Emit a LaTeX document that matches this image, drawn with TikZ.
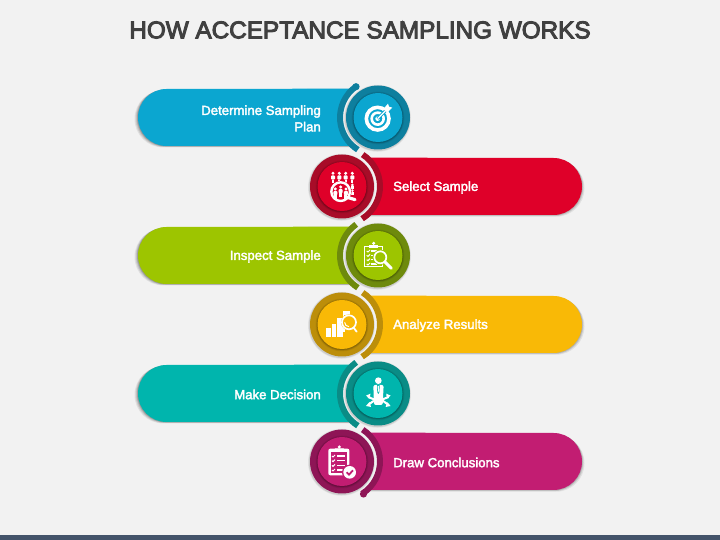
\documentclass[tikz,border=0pt]{standalone}
\usepackage{fontspec}
\setmainfont{Liberation Sans}
\newfontfamily\titlefont[FakeBold=4]{Liberation Sans}
\newfontfamily\labelfont[FakeBold=2.5]{Liberation Sans}
\definecolor{bgc}{HTML}{F2F2F2}
\definecolor{footc}{HTML}{44546A}
\definecolor{titlec}{HTML}{404040}
\definecolor{cA}{HTML}{0BA6D0}\definecolor{dA}{HTML}{0E7F9E}
\definecolor{cB}{HTML}{DF0029}\definecolor{dB}{HTML}{A80C28}
\definecolor{cC}{HTML}{9DC500}\definecolor{dC}{HTML}{6E8A0C}
\definecolor{cD}{HTML}{F9B906}\definecolor{dD}{HTML}{BC8E0A}
\definecolor{cE}{HTML}{00B5AD}\definecolor{dE}{HTML}{0A8C86}
\definecolor{cF}{HTML}{C21D72}\definecolor{dF}{HTML}{8E1556}
\tikzset{
  x=1pt,y=1pt,
  ringnode/.style={circle,inner sep=0pt,minimum size=64pt},
  corenode/.style={circle,inner sep=0pt,minimum size=49pt},
  lefttext/.style={text=white,font=\labelfont\fontsize{13.2}{16.5}\selectfont,anchor=east,align=right,inner sep=0pt},
  righttext/.style={text=white,font=\labelfont\fontsize{13.2}{16.5}\selectfont,anchor=west,align=left,inner sep=0pt},
  iconscope/.style={x=0.3333pt,y=-0.3333pt},
}
\newcommand{\barleftpath}{(166.5,28.5) arc[start angle=90,end angle=270,radius=28.5] -- (353,-28.5) arc[start angle=229,end angle=131,radius=38] -- cycle}
\newcommand{\barrightpath}{(553.5,28.5) arc[start angle=90,end angle=-90,radius=28.5] -- (367,-28.5) arc[start angle=-49,end angle=49,radius=38] -- cycle}
\newcommand{\rowcircle}[4]{%
  \foreach \d/\o in {1.5/.06,.7/.10}{\fill[black,opacity=\o] (#2-.5,-.8) circle[radius=32+\d];}
  \node[ringnode,fill=#4] (ring#1) at (#2,0) {};
  \foreach \d/\o in {2/.06,1.2/.10,.5/.14}{\fill[black,opacity=\o] (#2,-.5) circle[radius=24.5+\d];}
  \node[corenode,fill=#3] (core#1) at (#2,0) {};
}
\newcommand{\rowleft}[5]{%
  \begin{scope}[shift={(0pt,{(540-#2)*1pt})}]
    \foreach \d/\o in {3.5/.07,2.5/.09,1.5/.12,.7/.15}{\fill[black,opacity=\o,shift={(-\d*1pt,-\d*.4pt)}] \barleftpath;}
    \fill[#3] \barleftpath;
    \draw[#4,line width=6pt] (378,0)+(125:38) arc[start angle=125,end angle=238,radius=38];
    \rowcircle{#1}{378}{#3}{#4}
    \node[lefttext] (text#1) at (321,-1) {#5};
  \end{scope}}
\newcommand{\rowright}[5]{%
  \begin{scope}[shift={(0pt,{(540-#2)*1pt})}]
    \foreach \d/\o in {2.5/.07,1.5/.1,.7/.13}{\fill[black,opacity=\o,shift={(\d*1pt,-\d*.7pt)}] \barrightpath;}
    \fill[#3] \barrightpath;
    \draw[#4,line width=6pt] (342,0)+(-58:38) arc[start angle=-58,end angle=57,radius=38];
    \rowcircle{#1}{342}{#3}{#4}
    \node[righttext] (text#1) at (393,-1) {#5};
  \end{scope}}
\begin{document}
\begin{tikzpicture}
\useasboundingbox (0,0) rectangle (720,540);
\fill[bgc] (0,0) rectangle (720,540);
\fill[footc] (0,0) rectangle (720,5);
\node[text=titlec,font=\titlefont\fontsize{24.3}{30}\selectfont,inner sep=0pt] (title) at (360,510) {HOW ACCEPTANCE SAMPLING WORKS};

\rowleft{A}{117.5}{cA}{dA}{Determine Sampling\\Plan}
\rowright{B}{186.5}{cB}{dB}{Select Sample}
\rowleft{C}{255.5}{cC}{dC}{Inspect Sample}
\rowright{D}{324.5}{cD}{dD}{Analyze Results}
\rowleft{E}{393.5}{cE}{dE}{Make Decision}
\rowright{F}{461.5}{cF}{dF}{Draw Conclusions}

\fill[dA] (356,453.3) circle[radius=3.6];
\fill[dF] (363.5,46) circle[radius=3.6];

% ---- icon A: target
\begin{scope}[shift={(300pt,465pt)},iconscope]
  \draw[white,line width=3.6pt] (233,131) circle[radius=34];
  \draw[white,line width=2.6pt] (233,131) circle[radius=18];
  \fill[white] (233,131) circle[radius=7];
  \draw[cA,line width=3pt] (233,131) -- (264,100);
  \draw[white,line width=1.3pt] (233,131) -- (264,100);
  \fill[white] (250,102) -- (264,86) -- (267,95) -- (277,98) -- (262,113) -- cycle;
\end{scope}

% ---- icon B: people under lens
\begin{scope}[shift={(300pt,465pt)},iconscope]
  \foreach \px in {99,118,137,157}{
    \fill[white] (\px,295) circle[radius=5];
    \fill[white,rounded corners=1pt] (\px-6,301) rectangle (\px+6,314);
    \fill[white] (\px-3,314) rectangle (\px+3,323);
  }
  \foreach \py in {330,347}{
    \fill[white] (157,\py) circle[radius=4.5];
    \fill[white] (153,\py+4) rectangle (161,\py+13);
  }
  \fill[cB] (122,350) circle[radius=33];
  \draw[white,line width=2.4pt] (122,350) circle[radius=28];
  \draw[white,line width=3.2pt,line cap=round] (145,368) -- (165,374);
  \foreach \px/\py in {106/349,122/343,138/349}{
    \fill[white] (\px,\py-7) circle[radius=5];
    \fill[white,rounded corners=1pt] (\px-6,\py-1) rectangle (\px+6,\py+12);
    \fill[white] (\px-4.5,\py+12) rectangle (\px+4.5,\py+22);
  }
\end{scope}

% ---- icon C: clipboard and lens
\begin{scope}[shift={(300pt,325pt)},iconscope]
  \draw[white,line width=1.6pt] (194,94) rectangle (247,155);
  \fill[white] (208,89) rectangle (235,98);
  \fill[white] (221,85) circle[radius=5];
  \foreach \py in {108,121,134,147}{
    \draw[white,line width=1pt] (200,\py) -- (204,\py+3) -- (210,\py-3);
    \draw[white,line width=1.2pt] (214,\py) -- (232,\py);
  }
  \fill[cC] (241,127) circle[radius=23];
  \draw[white,line width=1.7pt] (241,127) circle[radius=18];
  \draw[white,line width=3pt,line cap=round] (255,141) -- (274,160);
\end{scope}

% ---- icon D: bars and lens
\begin{scope}[shift={(300pt,325pt)},iconscope]
  \fill[white] (78,340) rectangle (92,365);
  \fill[white] (95,326) rectangle (109,365);
  \fill[white] (112,308) rectangle (128,365);
  \fill[white] (128,288) rectangle (151,300);
  \fill[white] (128,340) rectangle (135,352);
  \fill[white] (128,300) rectangle (132,352);
  \fill[cD] (147,322) circle[radius=24];
  \draw[white,line width=1.7pt] (147,322) circle[radius=21];
  \draw[white,line width=1pt] (134,322) arc[start angle=180,end angle=90,radius=13];
  \draw[white,line width=1.8pt,line cap=round] (161,338) -- (170,350);
\end{scope}

% ---- icon E: person with arrows
\begin{scope}[shift={(300pt,185pt)},iconscope]
  \fill[white] (235,77) circle[radius=10];
  \fill[white,rounded corners=2pt] (220,90) -- (251,90) -- (248,150) -- (222,150) -- cycle;
  \fill[cE] (231,90) -- (239,90) -- (238,112) -- (235,117) -- (232,112) -- cycle;
  \fill[white] (233,93) -- (237,93) -- (236.5,108) -- (235,112) -- (233.5,108) -- cycle;
  \foreach \a/\b in {222/204,248/266}{
    \draw[white,line width=2pt] (\a,133) -- (\b,126);
    \draw[white,line width=2pt] (\a,137) -- (\b,150);
  }
  \fill[white] (198,122) -- (211,116) -- (210,131) -- cycle;
  \fill[white] (198,153) -- (209,141) -- (213,156) -- cycle;
  \fill[white] (272,122) -- (259,116) -- (260,131) -- cycle;
  \fill[white] (272,153) -- (261,141) -- (257,156) -- cycle;
\end{scope}

% ---- icon F: clipboard with check
\begin{scope}[shift={(300pt,185pt)},iconscope]
  \fill[white,rounded corners=2pt] (85,281) rectangle (148,361);
  \fill[cF] (92,292) rectangle (141,354);
  \fill[white,rounded corners=1pt] (103,280) rectangle (133,290);
  \fill[white] (118,276) circle[radius=5];
  \foreach \py in {303,317,331,345}{
    \draw[white,line width=1pt] (96,\py) -- (99,\py+3) -- (105,\py-3);
    \draw[white,line width=1.3pt] (111,\py) -- (136,\py);
  }
  \fill[cF] (149,352) circle[radius=23];
  \fill[white] (149,352) circle[radius=19];
  \draw[cF,line width=1.8pt] (140,352) -- (147,359) -- (159,346);
\end{scope}
\end{tikzpicture}
\end{document}
